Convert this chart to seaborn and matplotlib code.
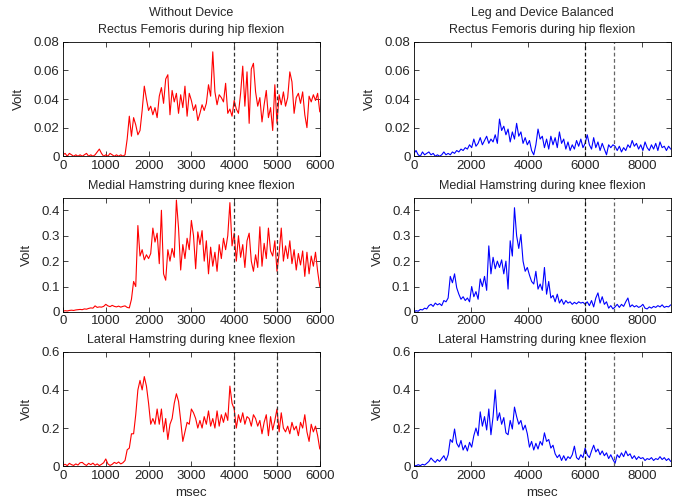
import matplotlib
matplotlib.use("Agg")
import matplotlib.pyplot as plt
import numpy as np
import pandas as pd
import seaborn as sns

# sample times (ms)
t_left = np.arange(0, 6001, 50)
t_right = np.arange(0, 9001, 75)

# Without Device (red)
rf_left = [0.001, 0.002, 0.000, 0.002, 0.001, 0.000, 0.001, 0.000, 0.001, 0.000,
           0.001, 0.002, 0.000, 0.001, 0.000, 0.001, 0.003, 0.005, 0.002, 0.000,
           0.001, 0.000, 0.002, 0.001, 0.000, 0.001, 0.000, 0.001, 0.000, 0.001,
           0.012, 0.028, 0.014, 0.027, 0.022, 0.015, 0.018, 0.032, 0.049, 0.040,
           0.032, 0.035, 0.029, 0.034, 0.027, 0.042, 0.048, 0.037, 0.054, 0.057,
           0.029, 0.046, 0.038, 0.044, 0.030, 0.043, 0.034, 0.049, 0.028, 0.044,
           0.039, 0.032, 0.036, 0.025, 0.030, 0.036, 0.032, 0.037, 0.050, 0.042,
           0.073, 0.045, 0.036, 0.043, 0.041, 0.038, 0.051, 0.030, 0.033, 0.028,
           0.039, 0.033, 0.030, 0.044, 0.063, 0.035, 0.059, 0.023, 0.061, 0.065,
           0.045, 0.035, 0.041, 0.024, 0.036, 0.046, 0.027, 0.034, 0.018, 0.050,
           0.023, 0.043, 0.036, 0.045, 0.035, 0.041, 0.059, 0.052, 0.030, 0.041,
           0.044, 0.037, 0.045, 0.029, 0.020, 0.042, 0.038, 0.043, 0.039, 0.044,
           0.031]
mh_left = [0.003, 0.005, 0.004, 0.006, 0.007, 0.006, 0.008, 0.009, 0.010, 0.009,
           0.012, 0.011, 0.014, 0.016, 0.015, 0.024, 0.018, 0.020, 0.019, 0.022,
           0.030, 0.024, 0.021, 0.026, 0.022, 0.020, 0.023, 0.019, 0.022, 0.024,
           0.018, 0.016, 0.050, 0.120, 0.100, 0.340, 0.220, 0.245, 0.205, 0.225,
           0.210, 0.230, 0.330, 0.275, 0.310, 0.190, 0.400, 0.150, 0.125, 0.245,
           0.200, 0.250, 0.215, 0.440, 0.330, 0.165, 0.265, 0.210, 0.290, 0.245,
           0.360, 0.300, 0.170, 0.315, 0.265, 0.320, 0.200, 0.280, 0.150, 0.255,
           0.180, 0.235, 0.160, 0.265, 0.210, 0.290, 0.245, 0.300, 0.430, 0.260,
           0.310, 0.200, 0.300, 0.215, 0.265, 0.175, 0.280, 0.310, 0.200, 0.160,
           0.225, 0.175, 0.335, 0.180, 0.270, 0.210, 0.330, 0.240, 0.220, 0.280,
           0.160, 0.230, 0.330, 0.200, 0.260, 0.210, 0.280, 0.190, 0.245, 0.165,
           0.230, 0.185, 0.240, 0.140, 0.235, 0.150, 0.220, 0.180, 0.235, 0.160,
           0.100]
lh_left = [0.005, 0.010, 0.003, 0.015, 0.008, 0.004, 0.012, 0.006, 0.018, 0.020,
           0.010, 0.004, 0.015, 0.008, 0.016, 0.005, 0.012, 0.003, 0.010, 0.018,
           0.038, 0.012, 0.004, 0.010, 0.020, 0.014, 0.022, 0.012, 0.018, 0.030,
           0.086, 0.095, 0.170, 0.170, 0.270, 0.400, 0.450, 0.400, 0.470, 0.420,
           0.330, 0.220, 0.250, 0.220, 0.300, 0.220, 0.300, 0.180, 0.250, 0.140,
           0.220, 0.250, 0.330, 0.380, 0.340, 0.240, 0.130, 0.180, 0.230, 0.220,
           0.300, 0.280, 0.250, 0.200, 0.240, 0.200, 0.260, 0.220, 0.290, 0.210,
           0.250, 0.200, 0.290, 0.210, 0.270, 0.230, 0.280, 0.240, 0.420, 0.330,
           0.300, 0.200, 0.270, 0.230, 0.280, 0.220, 0.260, 0.250, 0.210, 0.270,
           0.250, 0.210, 0.240, 0.170, 0.230, 0.270, 0.160, 0.260, 0.190, 0.240,
           0.300, 0.180, 0.280, 0.200, 0.180, 0.210, 0.170, 0.230, 0.190, 0.210,
           0.160, 0.230, 0.200, 0.270, 0.180, 0.130, 0.220, 0.180, 0.210, 0.160,
           0.090]

# Leg and Device Balanced (blue)
rf_right = [0.002, 0.004, 0.001, 0.000, 0.003, 0.001, 0.002, 0.003, 0.001, 0.002,
            0.000, 0.001, 0.000, 0.001, 0.003, 0.001, 0.002, 0.001, 0.003, 0.002,
            0.004, 0.003, 0.005, 0.004, 0.006, 0.005, 0.008, 0.006, 0.012, 0.007,
            0.009, 0.013, 0.008, 0.011, 0.014, 0.009, 0.012, 0.010, 0.015, 0.009,
            0.026, 0.018, 0.021, 0.015, 0.019, 0.010, 0.017, 0.012, 0.023, 0.014,
            0.017, 0.009, 0.013, 0.008, 0.011, 0.004, 0.001, 0.008, 0.019, 0.012,
            0.014, 0.006, 0.012, 0.005, 0.014, 0.008, 0.013, 0.006, 0.017, 0.009,
            0.012, 0.005, 0.010, 0.004, 0.008, 0.005, 0.011, 0.007, 0.012, 0.006,
            0.009, 0.015, 0.008, 0.005, 0.013, 0.006, 0.010, 0.004, 0.009, 0.005,
            0.001, 0.008, 0.006, 0.008, 0.007, 0.004, 0.007, 0.003, 0.006, 0.004,
            0.008, 0.006, 0.011, 0.007, 0.009, 0.005, 0.008, 0.004, 0.010, 0.006,
            0.004, 0.008, 0.005, 0.009, 0.004, 0.010, 0.006, 0.007, 0.004, 0.007,
            0.005]
mh_right = [0.000, 0.005, 0.003, 0.010, 0.008, 0.015, 0.012, 0.025, 0.030, 0.022,
            0.035, 0.028, 0.033, 0.025, 0.045, 0.040, 0.055, 0.140, 0.115, 0.150,
            0.095, 0.070, 0.050, 0.060, 0.045, 0.055, 0.040, 0.100, 0.060, 0.080,
            0.050, 0.130, 0.100, 0.140, 0.085, 0.260, 0.150, 0.215, 0.170, 0.200,
            0.175, 0.205, 0.150, 0.200, 0.090, 0.280, 0.220, 0.410, 0.300, 0.250,
            0.305, 0.200, 0.160, 0.175, 0.145, 0.120, 0.110, 0.160, 0.090, 0.110,
            0.085, 0.175, 0.070, 0.120, 0.055, 0.065, 0.040, 0.070, 0.035, 0.050,
            0.030, 0.045, 0.035, 0.040, 0.030, 0.038, 0.032, 0.040, 0.035, 0.038,
            0.030, 0.040, 0.025, 0.045, 0.020, 0.055, 0.075, 0.035, 0.060, 0.030,
            0.040, 0.015, 0.025, 0.012, 0.020, 0.030, 0.018, 0.030, 0.022, 0.040,
            0.055, 0.020, 0.028, 0.020, 0.025, 0.018, 0.022, 0.030, 0.015, 0.012,
            0.020, 0.015, 0.022, 0.018, 0.025, 0.020, 0.028, 0.018, 0.022, 0.020,
            0.028]
lh_right = [0.005, 0.002, 0.008, 0.003, 0.010, 0.006, 0.015, 0.025, 0.043, 0.030,
            0.020, 0.035, 0.025, 0.040, 0.055, 0.030, 0.060, 0.140, 0.125, 0.195,
            0.120, 0.100, 0.135, 0.085, 0.110, 0.080, 0.125, 0.100, 0.160, 0.200,
            0.160, 0.285, 0.210, 0.260, 0.190, 0.300, 0.165, 0.260, 0.400, 0.240,
            0.280, 0.220, 0.255, 0.175, 0.165, 0.240, 0.195, 0.310, 0.260, 0.220,
            0.240, 0.190, 0.215, 0.170, 0.100, 0.130, 0.085, 0.120, 0.090, 0.130,
            0.110, 0.175, 0.130, 0.140, 0.095, 0.110, 0.065, 0.045, 0.060, 0.030,
            0.055, 0.030, 0.050, 0.040, 0.060, 0.105, 0.045, 0.035, 0.060, 0.045,
            0.095, 0.060, 0.045, 0.080, 0.110, 0.075, 0.090, 0.060, 0.080, 0.055,
            0.070, 0.040, 0.060, 0.035, 0.015, 0.060, 0.045, 0.070, 0.050, 0.080,
            0.055, 0.065, 0.040, 0.055, 0.035, 0.050, 0.040, 0.045, 0.030, 0.040,
            0.035, 0.045, 0.030, 0.040, 0.035, 0.050, 0.035, 0.045, 0.030, 0.040,
            0.025]

col_titles = ["Without Device", "Leg and Device Balanced"]
row_titles = ["Rectus Femoris during hip flexion",
              "Medial Hamstring during knee flexion",
              "Lateral Hamstring during knee flexion"]
y_limits = [0.08, 0.45, 0.6]
y_ticks = [[0, 0.02, 0.04, 0.06, 0.08], [0, 0.1, 0.2, 0.3, 0.4], [0, 0.2, 0.4, 0.6]]
y_ticklabels = [["0", "0.02", "0.04", "0.06", "0.08"],
                ["0", "0.1", "0.2", "0.3", "0.4"],
                ["0", "0.2", "0.4", "0.6"]]
x_limits = [6000, 9000]
x_ticks = [[0, 1000, 2000, 3000, 4000, 5000, 6000], [0, 2000, 4000, 6000, 8000]]
markers = [[4000, 5000], [6000, 7000]]
marker_colors = [["#333333", "#333333"], ["#111111", "#666666"]]
line_colors = ["#ff0000", "#0000ff"]

series = {
    (0, 0): rf_left, (1, 0): mh_left, (2, 0): lh_left,
    (0, 1): rf_right, (1, 1): mh_right, (2, 1): lh_right,
}

sns.set_style("ticks")
plt.rcParams["font.family"] = ["Liberation Sans", "DejaVu Sans"]
plt.rcParams["font.size"] = 9

fig = plt.figure(figsize=(6.83, 5.04), dpi=100)
col_x = [0.0922, 0.606]
row_y = [0.690, 0.381, 0.075]
w, h = 0.376, 0.227

for r in range(3):
    for c in range(2):
        ax = fig.add_axes([col_x[c], row_y[r], w, h])
        t = t_left if c == 0 else t_right
        df = pd.DataFrame({"t": t, "v": series[(r, c)]})
        sns.lineplot(data=df, x="t", y="v", ax=ax, color=line_colors[c], linewidth=0.8)
        for m, mc in zip(markers[c], marker_colors[c]):
            ax.axvline(m, color=mc, linestyle=(0, (3, 2)), linewidth=0.9)
        ax.set_xlim(0, x_limits[c])
        ax.set_ylim(0, y_limits[r])
        ax.set_xticks(x_ticks[c])
        ax.set_xticklabels([str(v) for v in x_ticks[c]])
        ax.set_yticks(y_ticks[r])
        ax.set_yticklabels(y_ticklabels[r])
        ax.tick_params(direction="in", top=True, right=True, length=3.5, width=0.6,
                       labelsize=9.5, pad=2.5)
        for s in ax.spines.values():
            s.set_linewidth(0.6)
            s.set_color("black")
        ax.set_ylabel("Volt", fontsize=9.5, labelpad=6)
        ax.set_xlabel("msec" if r == 2 else "", fontsize=9.5)
        if r == 0:
            ax.set_title(col_titles[c] + "\n" + row_titles[r], fontsize=9, pad=6.5,
                         linespacing=1.5)
        else:
            ax.set_title(row_titles[r], fontsize=9, pad=6.5)

fig.savefig("out.png", dpi=100)
